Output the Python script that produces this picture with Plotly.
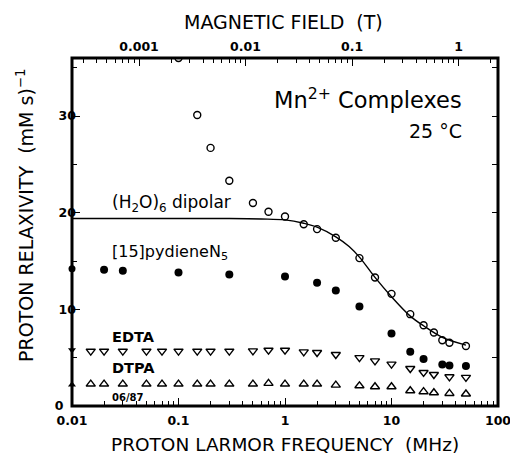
import numpy as np
import plotly.graph_objects as go

# Data (frequency in MHz, relaxivity in (mM s)^-1)
h2o_f = [0.1, 0.15, 0.2, 0.3, 0.5, 0.7, 1.0, 1.5, 2, 3, 5, 7, 10, 15, 20, 25, 30, 35, 50]
h2o_r = [36.0, 30.1, 26.7, 23.3, 21.0, 20.1, 19.6, 18.8, 18.3, 17.4, 15.3, 13.3, 11.6, 9.5, 8.35, 7.6, 6.8, 6.55, 6.2]

fit_f = [0.01, 0.3, 0.6, 1.0, 1.5, 2, 3, 4, 5, 7, 10, 15, 20, 30, 50]
fit_r = [19.4, 19.4, 19.35, 19.25, 18.9, 18.5, 17.5, 16.5, 15.4, 13.3, 11.3, 9.3, 8.3, 7.1, 6.3]

pyd_f = [0.02, 0.03, 0.1, 0.3, 1.0, 2, 3, 5, 10, 15, 20, 30, 35, 50]
pyd_r = [14.1, 14.0, 13.8, 13.6, 13.4, 12.75, 11.96, 10.3, 7.5, 5.6, 4.85, 4.3, 4.2, 4.15]

edta_f = [0.015, 0.02, 0.03, 0.05, 0.07, 0.1, 0.15, 0.2, 0.3, 0.5, 0.7, 1.0, 1.5, 2, 3, 5, 7, 10, 15, 20, 25, 35, 50]
edta_r = [5.67, 5.67, 5.67, 5.67, 5.67, 5.67, 5.67, 5.67, 5.67, 5.7, 5.77, 5.77, 5.6, 5.53, 5.33, 5.0, 4.67, 4.33, 3.88, 3.47, 3.26, 3.02, 2.96]

dtpa_f = [0.015, 0.02, 0.03, 0.05, 0.07, 0.1, 0.15, 0.2, 0.3, 0.5, 0.7, 1.0, 1.5, 2, 3, 5, 7, 10, 15, 20, 25, 35, 50]
dtpa_r = [2.27, 2.27, 2.27, 2.27, 2.27, 2.27, 2.27, 2.27, 2.27, 2.27, 2.34, 2.27, 2.27, 2.27, 2.16, 2.09, 1.99, 1.99, 1.58, 1.48, 1.37, 1.3, 1.24]

# low-field reference values (drawn on the axis)
axis_f = [0.01, 0.01, 0.01]
axis_r = [14.2, 5.8, 2.2]
axis_sym = ["circle", "triangle-down", "triangle-up"]

GAMMA = 42.58  # MHz per tesla
x_major = [0.01, 0.1, 1, 10, 100]
x_labels = ["0.01", "0.1", "1", "10", "100"]
b_major = [0.001, 0.01, 0.1, 1]
b_labels = ["0.001", "0.01", "0.1", "1"]
y_major = [0, 10, 20, 30]
y_labels = ["0\u2003", "10", "20", "30"]
y_minor = [5, 15, 25, 35]
y_right = [5, 10, 15, 20, 25, 30, 35]

FONT = "DejaVu Sans"
BLACK = "black"

fig = go.Figure()
fig.add_trace(go.Scatter(x=fit_f, y=fit_r, mode="lines", line=dict(color=BLACK, width=1.4, shape="spline"), showlegend=False))
fig.add_trace(go.Scatter(x=h2o_f, y=h2o_r, mode="markers",
                         marker=dict(symbol="circle-open", size=7, color=BLACK, line=dict(width=1.4)), showlegend=False))
fig.add_trace(go.Scatter(x=pyd_f, y=pyd_r, mode="markers",
                         marker=dict(symbol="circle", size=8, color=BLACK), showlegend=False))
fig.add_trace(go.Scatter(x=edta_f, y=edta_r, mode="markers",
                         marker=dict(symbol="triangle-down-open", size=8, color=BLACK, line=dict(width=1.4)), showlegend=False))
fig.add_trace(go.Scatter(x=dtpa_f, y=dtpa_r, mode="markers",
                         marker=dict(symbol="triangle-up-open", size=8, color=BLACK, line=dict(width=1.4)), showlegend=False))
fig.add_trace(go.Scatter(x=axis_f, y=axis_r, mode="markers", cliponaxis=False,
                         marker=dict(symbol=axis_sym, size=7, color=BLACK), showlegend=False))
# invisible traces anchoring the top and right axes
fig.add_trace(go.Scatter(x=[b_major[0]], y=[0], xaxis="x2", mode="markers",
                         marker=dict(opacity=0), showlegend=False, hoverinfo="skip"))
fig.add_trace(go.Scatter(x=[x_major[0]], y=[0], yaxis="y2", mode="markers",
                         marker=dict(opacity=0), showlegend=False, hoverinfo="skip"))

def minors(lo, hi):
    out = []
    for e in range(lo, hi):
        for m in range(2, 10):
            out.append(m * 10 ** e)
    return out

TICKFONT = dict(family=FONT, size=12.5, color=BLACK, weight="bold")

W, H = 510, 456
ML, MR, MT, MB = 72, 12, 58, 50
PW, PH = W - ML - MR, H - MT - MB

fig.update_layout(
    width=W, height=H,
    margin=dict(l=ML, r=MR, t=MT, b=MB),
    paper_bgcolor="white", plot_bgcolor="white",
    font=dict(family=FONT, color=BLACK),
    xaxis=dict(type="log", range=[-2, 2], tickvals=x_major, ticktext=x_labels,
               ticks="inside", ticklen=8, tickwidth=1.4, tickcolor=BLACK,
               minor=dict(tickvals=minors(-2, 2), ticks="inside", ticklen=5, tickwidth=1.1, tickcolor=BLACK),
               showline=False, showgrid=False, zeroline=False, automargin=False,
               ticklabeloverflow="allow",
               ticklabelstandoff=5, tickfont=TICKFONT),
    xaxis2=dict(type="log", overlaying="x", side="top",
                range=[np.log10(0.01 / GAMMA), np.log10(100 / GAMMA)],
                tickvals=b_major, ticktext=b_labels,
                ticks="inside", ticklen=8, tickwidth=1.4, tickcolor=BLACK,
                minor=dict(tickvals=minors(-4, 1), ticks="inside", ticklen=5, tickwidth=1.1, tickcolor=BLACK),
                showline=False, showgrid=False, zeroline=False, automargin=False,
                ticklabeloverflow="allow",
                ticklabelstandoff=4, tickfont=TICKFONT),
    yaxis=dict(range=[0, 36], tickvals=y_major, ticktext=y_labels,
               ticks="inside", ticklen=8, tickwidth=1.4, tickcolor=BLACK,
               minor=dict(tickvals=y_minor, ticks="inside", ticklen=5, tickwidth=1.1, tickcolor=BLACK),
               showline=False, showgrid=False, zeroline=False, automargin=False,
               ticklabeloverflow="allow",
               ticklabelstandoff=-5, tickfont=TICKFONT),
    yaxis2=dict(range=[0, 36], overlaying="y", side="right",
                tickvals=y_right, showticklabels=False,
                ticks="inside", ticklen=6, tickwidth=1.4, tickcolor=BLACK,
                showline=False, showgrid=False, zeroline=False, automargin=False),
)

# plot frame
fig.add_shape(type="rect", xref="paper", yref="paper", x0=0, y0=0, x1=1, y1=1,
              line=dict(color=BLACK, width=3), fillcolor="rgba(0,0,0,0)", layer="above")

def px_to_paper(px, py):
    # page pixel -> paper coords (plot area spans 72..498 x 58..406)
    return (px - ML) / PW, 1 - (py - MT) / PH

texts = [
    ("Mn<sup>2+</sup> Complexes", 463, 98, "right", 22.5, 0, "normal"),
    ("25 °C", 463, 131, "right", 19, 0, "normal"),
    ("(H<sub>2</sub>O)<sub>6</sub> dipolar", 111, 203, "left", 17, 0, "normal"),
    ("[15]pydieneN<sub>5</sub>", 111, 253, "left", 16, 0, "normal"),
    ("EDTA", 111, 337, "left", 14.5, 0, "bold"),
    ("DTPA", 111, 368, "left", 14.5, 0, "bold"),
    ("06/87", 111, 397, "left", 10, 0, "bold"),
    ("PROTON LARMOR FREQUENCY  (MHz)", 285, 444, "center", 18.5, 0, "normal"),
    ("MAGNETIC FIELD  (T)", 283, 22, "center", 19, 0, "normal"),
    ("PROTON RELAXIVITY  (mM s)<sup>−1</sup>", 25, 216, "center", 19, -90, "normal"),
]
for t, px, py, al, sz, ang, wt in texts:
    x, y = px_to_paper(px, py)
    fig.add_annotation(text=t, x=x, y=y, xanchor=al, yanchor="middle", textangle=ang,
                       showarrow=False, xref="paper", yref="paper", borderpad=0,
                       font=dict(family=FONT, size=sz, color=BLACK, weight=wt))

fig.write_html("out.html", config={"displayModeBar": False},
               post_script="document.body.style.margin='0';document.body.style.overflow='hidden';")
